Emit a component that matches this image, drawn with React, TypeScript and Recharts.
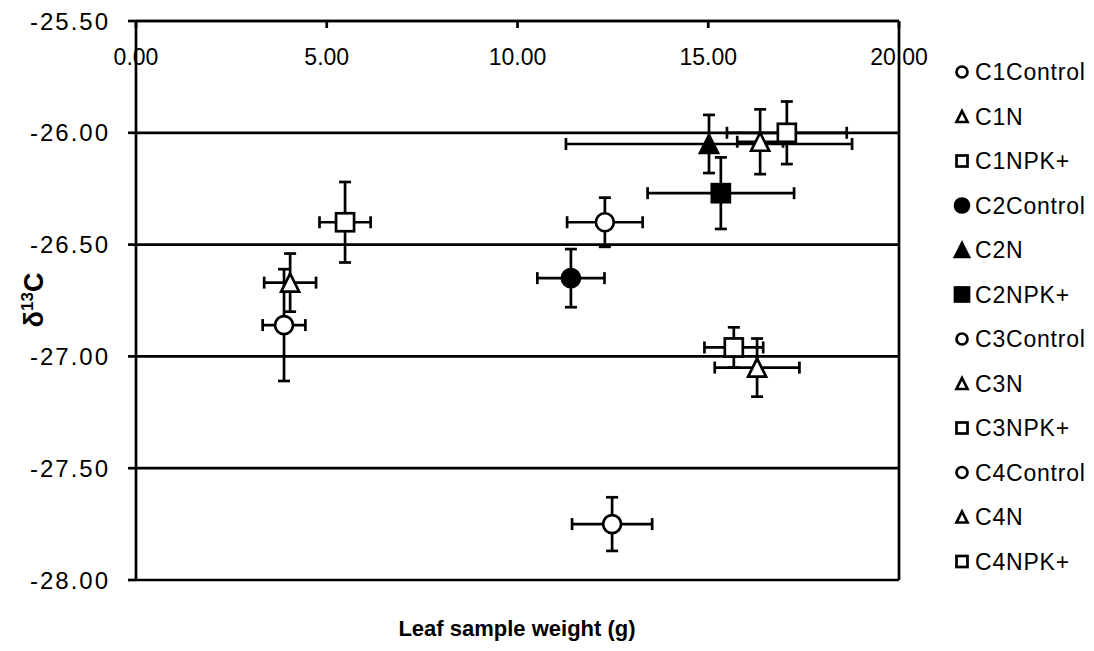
import React from 'react';
import { ScatterChart, Scatter, XAxis, YAxis, CartesianGrid, ErrorBar, ReferenceLine, Customized } from 'recharts';

const seriesNames = ['C1Control', 'C1N', 'C1NPK+', 'C2Control', 'C2N', 'C2NPK+', 'C3Control', 'C3N', 'C3NPK+', 'C4Control', 'C4N', 'C4NPK+'];
const leafWeight = [12.29, 16.36, 17.06, 11.4, 15.02, 15.33, 12.48, 16.28, 15.67, 3.88, 4.04, 5.48];
const delta13C = [-26.4, -26.04, -26.0, -26.65, -26.05, -26.27, -27.75, -27.05, -26.96, -26.86, -26.67, -26.4];
const weightError = [0.99, 0.6, 1.57, 0.88, 3.75, 1.92, 1.05, 1.11, 0.77, 0.56, 0.68, 0.67];
const deltaError = [0.11, 0.145, 0.14, 0.13, 0.13, 0.16, 0.12, 0.13, 0.09, 0.25, 0.13, 0.18];
const xTicks = [0, 5, 10, 15, 20];
const yTicks = [-28, -27.5, -27, -26.5, -26, -25.5];

// marker look per series
const markerKinds = ['circle', 'triangle', 'square', 'circle', 'triangle', 'square', 'circle', 'triangle', 'square', 'circle', 'triangle', 'square'];
const markerFilled = [false, false, false, true, true, true, false, false, false, false, false, false];

const FONT = '"Liberation Sans", Arial, sans-serif';
const PLOT_TOP = 21;
const SW = 2.7;

function Marker({ cx, cy, kind, filled, size }: { cx: number; cy: number; kind: string; filled: boolean; size: number }) {
  const fill = filled ? '#000' : '#fff';
  const h = size / 2;
  if (kind === 'circle') {
    return <circle cx={cx} cy={cy} r={h} fill={fill} stroke="#000" strokeWidth={SW} />;
  }
  if (kind === 'square') {
    return <rect x={cx - h} y={cy - h} width={size} height={size} fill={fill} stroke="#000" strokeWidth={SW} />;
  }
  const pts = `${cx},${cy - h} ${cx + h},${cy + h} ${cx - h},${cy + h}`;
  return <polygon points={pts} fill={fill} stroke="#000" strokeWidth={SW} strokeLinejoin="miter" />;
}

const TopTick = (props: any) => {
  const { x, payload } = props;
  return (
    <g>
      <line x1={x} x2={x} y1={PLOT_TOP} y2={PLOT_TOP + 7} stroke="#000" strokeWidth={SW} />
      <text x={x} y={PLOT_TOP + 44} textAnchor="middle" fontSize={23} fontFamily={FONT} fill="#000">
        {Number(payload.value).toFixed(2)}
      </text>
    </g>
  );
};

const Extras = () => (
  <g fontFamily={FONT} fill="#000">
    <text x={517} y={636} textAnchor="middle" fontSize={22} fontWeight="bold">
      Leaf sample weight (g)
    </text>
    <text transform="translate(43,300) rotate(-90)" textAnchor="middle" fontSize={27} fontWeight="bold">
      δ<tspan fontSize={17} dy={-10}>13</tspan>
      <tspan dy={10}>C</tspan>
    </text>
    {seriesNames.map((name, i) => {
      const y = 72 + i * 44.5;
      const size = markerFilled[i] ? 14 : 11;
      return (
        <g key={name}>
          <Marker cx={962} cy={y} kind={markerKinds[i]} filled={markerFilled[i]} size={size} />
          <text x={975} y={y + 8} fontSize={23} letterSpacing={0.8} fill="#000">
            {name}
          </text>
        </g>
      );
    })}
  </g>
);

export default function App() {
  return (
    <div>
      <style>{'body{margin:0;background:#fff}'}</style>
      <ScatterChart width={1094} height={651} margin={{ top: 20, right: 195, bottom: 71, left: 10 }}>
        <CartesianGrid vertical={false} stroke="#000" strokeWidth={SW} />
        <XAxis
          type="number"
          dataKey="x"
          orientation="top"
          domain={[0, 20]}
          ticks={xTicks}
          allowDataOverflow
          height={1}
          axisLine={{ stroke: '#000', strokeWidth: SW }}
          tickLine={false}
          tick={<TopTick />}
        />
        <YAxis
          type="number"
          dataKey="y"
          domain={[-28, -25.5]}
          ticks={yTicks}
          allowDataOverflow
          width={126}
          tickSize={8}
          tickMargin={18}
          axisLine={{ stroke: '#000', strokeWidth: SW }}
          tickLine={{ stroke: '#000', strokeWidth: SW }}
          tick={{ fill: '#000', fontSize: 24, fontFamily: FONT, letterSpacing: 2 }}
          tickFormatter={(v) => Number(v).toFixed(2)}
        />
        <ReferenceLine x={20} stroke="#000" strokeWidth={SW} />
        {seriesNames.map((name, i) => (
          <Scatter
            key={name}
            name={name}
            data={[{ x: leafWeight[i], y: delta13C[i], ex: weightError[i], ey: deltaError[i] }]}
            isAnimationActive={false}
            shape={(p: any) => <Marker cx={p.cx} cy={p.cy} kind={markerKinds[i]} filled={markerFilled[i]} size={18} />}
          >
            <ErrorBar dataKey="ex" direction="x" width={6} stroke="#000" strokeWidth={SW} isAnimationActive={false} />
            <ErrorBar dataKey="ey" direction="y" width={6} stroke="#000" strokeWidth={SW} isAnimationActive={false} />
          </Scatter>
        ))}
        <Customized component={Extras} />
      </ScatterChart>
    </div>
  );
}
